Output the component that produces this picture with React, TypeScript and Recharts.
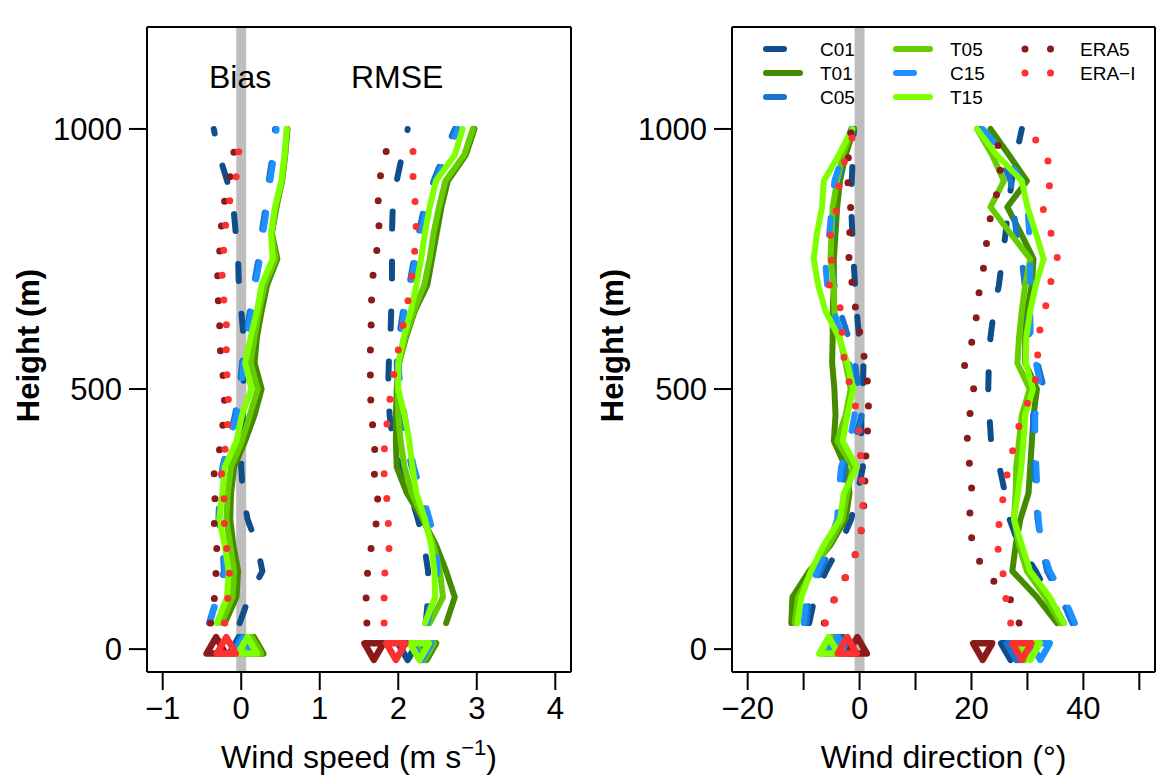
import React from 'react';
import { ComposedChart, Line, Scatter, XAxis, YAxis, ReferenceLine } from 'recharts';

const FONT = '"Liberation Sans", Arial, Helvetica, sans-serif';

// model levels (m), bottom to top
const heights = [50, 100, 150, 200, 250, 300, 350, 400, 450, 500, 550, 600, 650, 700, 750, 800, 850, 900, 950, 1000];

const seriesNames = ['C01', 'T01', 'C05', 'T05', 'C15', 'T15', 'ERA5', 'ERA\u2212I'];
const seriesColors = ['#104E8B', '#458B00', '#1874CD', '#66CD00', '#1E90FF', '#7FFF00', '#8B1A1A', '#FF3030'];

// wind speed bias (m s-1)
const wsBiasC01 = [-0.02, 0.10, 0.27, 0.20, 0.08, 0.02, 0.00, 0.01, 0.02, 0.03, 0.03, 0.03, 0.00, -0.03, -0.04, -0.07, -0.10, -0.18, -0.28, -0.35];
const wsBiasT01 = [-0.21, -0.06, -0.04, -0.10, -0.14, -0.13, -0.09, 0.05, 0.17, 0.26, 0.17, 0.20, 0.26, 0.33, 0.46, 0.39, 0.45, 0.52, 0.56, 0.59];
const wsBiasC05 = [-0.41, -0.31, -0.22, -0.24, -0.29, -0.28, -0.24, -0.16, -0.08, -0.02, 0.01, 0.06, 0.11, 0.16, 0.22, 0.26, 0.31, 0.35, 0.40, 0.43];
const wsBiasT05 = [-0.25, -0.11, -0.09, -0.14, -0.19, -0.17, -0.13, 0.01, 0.11, 0.21, 0.12, 0.17, 0.23, 0.30, 0.44, 0.39, 0.44, 0.52, 0.56, 0.58];
const wsBiasC15 = [-0.40, -0.30, -0.20, -0.22, -0.28, -0.27, -0.23, -0.15, -0.06, 0.00, 0.03, 0.08, 0.13, 0.18, 0.24, 0.28, 0.33, 0.37, 0.42, 0.45];
const wsBiasT15 = [-0.31, -0.18, -0.16, -0.21, -0.28, -0.24, -0.21, -0.06, 0.01, 0.13, 0.05, 0.12, 0.20, 0.26, 0.40, 0.38, 0.43, 0.51, 0.55, 0.58];
const wsBiasERA5 = [-0.39, -0.34, -0.32, -0.31, -0.35, -0.33, -0.35, -0.24, -0.23, -0.20, -0.26, -0.27, -0.28, -0.31, -0.28, -0.26, -0.23, -0.15, -0.10, -0.04];
const wsBiasERAI = [-0.21, -0.17, -0.15, -0.19, -0.22, -0.22, -0.26, -0.18, -0.17, -0.16, -0.20, -0.18, -0.20, -0.25, -0.23, -0.21, -0.17, -0.07, -0.03, -0.04];

// wind speed RMSE (m s-1)
const wsRmseC01 = [2.35, 2.38, 2.38, 2.33, 2.25, 2.15, 2.02, 1.93, 1.89, 1.87, 1.88, 1.90, 1.91, 1.92, 1.92, 1.92, 1.93, 1.98, 2.05, 2.12];
const wsRmseT01 = [2.61, 2.72, 2.61, 2.48, 2.31, 2.11, 1.98, 1.97, 1.97, 1.98, 2.01, 2.10, 2.21, 2.37, 2.43, 2.49, 2.55, 2.63, 2.86, 2.97];
const wsRmseC05 = [2.35, 2.42, 2.48, 2.45, 2.37, 2.27, 2.17, 2.10, 2.05, 2.00, 1.98, 2.01, 2.06, 2.14, 2.20, 2.26, 2.33, 2.45, 2.58, 2.72];
const wsRmseT05 = [2.40, 2.57, 2.53, 2.45, 2.32, 2.17, 2.08, 2.03, 2.00, 1.99, 2.01, 2.09, 2.20, 2.33, 2.40, 2.45, 2.52, 2.60, 2.84, 2.95];
const wsRmseC15 = [2.37, 2.45, 2.50, 2.48, 2.40, 2.30, 2.20, 2.13, 2.08, 2.03, 2.00, 2.03, 2.08, 2.16, 2.22, 2.29, 2.36, 2.48, 2.62, 2.76];
const wsRmseT15 = [2.34, 2.47, 2.46, 2.42, 2.34, 2.23, 2.18, 2.14, 2.08, 2.00, 2.00, 2.07, 2.16, 2.23, 2.29, 2.34, 2.40, 2.48, 2.72, 2.82];
const wsRmseERA5 = [1.60, 1.59, 1.61, 1.66, 1.73, 1.74, 1.68, 1.71, 1.65, 1.65, 1.64, 1.65, 1.66, 1.66, 1.71, 1.76, 1.74, 1.76, 1.83, 1.95];
const wsRmseERAI = [1.82, 1.82, 1.83, 1.89, 1.87, 1.85, 1.81, 1.83, 1.87, 1.91, 1.97, 2.03, 2.10, 2.16, 2.20, 2.23, 2.22, 2.19, 2.18, 2.24];

// wind direction bias (deg)
const wdBiasC01 = [-9.0, -8.0, -6.0, -3.5, -1.5, -0.4, 0.6, 0.3, 0.3, 0.6, 0.7, -0.1, -0.5, -0.8, -1.1, -1.3, -1.5, -1.4, -1.2, -1.0];
const wdBiasT01 = [-12.2, -12.0, -9.0, -5.2, -2.5, -1.8, -2.5, -4.6, -4.3, -4.5, -4.9, -4.8, -4.8, -4.6, -4.6, -4.3, -4.0, -3.5, -2.5, -1.0];
const wdBiasC05 = [-9.5, -9.0, -7.0, -5.0, -3.3, -3.0, -2.8, -1.0, 0.4, -0.2, -0.8, -2.0, -3.5, -4.5, -5.0, -4.8, -4.5, -3.8, -2.5, -1.2];
const wdBiasT05 = [-11.6, -11.0, -8.5, -5.5, -3.0, -2.2, -1.2, -4.0, -2.5, -1.6, -2.5, -3.6, -4.5, -4.6, -5.2, -5.0, -4.8, -4.0, -3.0, -1.3];
const wdBiasC15 = [-10.0, -9.5, -7.5, -5.5, -4.0, -3.8, -3.3, -1.8, -0.9, -1.2, -1.8, -3.2, -4.6, -5.8, -6.2, -5.4, -5.0, -4.5, -3.0, -1.5];
const wdBiasT15 = [-11.1, -10.4, -8.7, -6.4, -3.5, -2.8, -0.5, -3.0, -2.2, -1.1, -2.2, -3.7, -6.1, -7.4, -8.2, -7.6, -6.7, -6.4, -3.7, -1.3];
const wdBiasERA5 = [-6.3, -4.4, -2.0, -0.1, 0.6, 0.9, 1.0, 1.3, 1.6, 1.55, 1.0, 0.2, -0.65, -1.3, -1.9, -1.75, -1.6, -2.1, -2.0, -1.5];
const wdBiasERAI = [-6.1, -4.3, -1.9, -0.1, 0.55, 0.6, 0.25, 0.05, -0.3, -1.55, -2.7, -3.1, -3.2, -5.4, -5.0, -5.2, -4.0, -3.6, -2.4, -0.8];

// wind direction RMSE (deg)
const wdRmseC01 = [36.5, 34.0, 31.5, 28.5, 26.8, 26.0, 25.0, 23.5, 23.2, 23.0, 23.1, 23.4, 24.0, 24.9, 25.5, 26.1, 26.6, 27.2, 28.0, 29.0];
const wdRmseT01 = [35.3, 31.7, 27.3, 27.9, 28.75, 30.2, 30.5, 30.8, 31.1, 31.7, 29.6, 29.6, 29.9, 30.8, 31.1, 28.8, 26.4, 29.9, 26.7, 23.4];
const wdRmseC05 = [38.0, 36.0, 33.5, 32.5, 31.8, 31.5, 31.2, 31.0, 31.0, 33.0, 31.8, 30.3, 30.0, 29.5, 29.0, 28.0, 27.5, 27.0, 25.0, 21.5];
const wdRmseT05 = [35.9, 33.2, 29.9, 28.5, 27.6, 27.9, 28.0, 28.5, 29.0, 30.4, 28.2, 28.5, 29.0, 29.6, 30.5, 26.9, 23.4, 25.8, 23.7, 21.0];
const wdRmseC15 = [38.5, 36.5, 34.0, 32.5, 32.0, 31.8, 31.6, 31.4, 31.4, 32.5, 31.5, 30.6, 30.5, 30.5, 30.5, 30.3, 30.0, 29.0, 26.0, 22.0];
const wdRmseT15 = [36.5, 34.0, 30.5, 29.0, 27.6, 28.3, 28.9, 29.3, 29.6, 31.0, 29.7, 29.8, 30.5, 31.5, 32.9, 31.5, 30.0, 29.0, 24.5, 21.0];
const wdRmseERA5 = [28.5, 26.8, 22.2, 20.2, 19.6, 20.1, 19.7, 19.2, 19.7, 20.4, 18.6, 20.4, 21.0, 21.5, 22.5, 22.8, 23.8, 25.2, 25.0, 24.3];
const wdRmseERAI = [27.0, 26.1, 25.6, 24.6, 25.0, 25.8, 26.6, 27.8, 29.0, 31.2, 31.8, 31.9, 33.1, 34.0, 35.4, 34.2, 32.7, 34.2, 33.5, 30.0];

// column means drawn as triangles at height 0 (same order as seriesNames)
const wsBiasMean = [-0.03, 0.16, 0.0, 0.13, 0.03, 0.08, -0.32, -0.19];
const wsRmseMean = [2.12, 2.36, 2.28, 2.33, 2.30, 2.27, 1.69, 1.97];
const wdBiasMean = [-3.0, -4.6, -3.5, -5.0, -4.0, -5.5, -0.4, -2.2];
const wdRmseMean = [27.0, 28.5, 28.0, 29.5, 32.3, 30.5, 22.0, 29.0];

const wsBias = [wsBiasC01, wsBiasT01, wsBiasC05, wsBiasT05, wsBiasC15, wsBiasT15, wsBiasERA5, wsBiasERAI];
const wsRmse = [wsRmseC01, wsRmseT01, wsRmseC05, wsRmseT05, wsRmseC15, wsRmseT15, wsRmseERA5, wsRmseERAI];
const wdBias = [wdBiasC01, wdBiasT01, wdBiasC05, wdBiasT05, wdBiasC15, wdBiasT15, wdBiasERA5, wdBiasERAI];
const wdRmse = [wdRmseC01, wdRmseT01, wdRmseC05, wdRmseT05, wdRmseC15, wdRmseT15, wdRmseERA5, wdRmseERAI];

const heightTicks = [0, 500, 1000];
const wsTicks = [-1, 0, 1, 2, 3, 4];
const wdTicks = [-20, -10, 0, 10, 20, 30, 40, 50];
const wdLabelled = [-20, 0, 20, 40];

const axisStroke = { stroke: '#000', strokeWidth: 2 };
const tickFont = { fill: '#000', fontSize: 31, fontFamily: FONT };
const minus = (v: number) => String(v).replace('-', '\u2212');

// C = dashed, T = solid, ERA = dotted
const lineStyle = (i: number) =>
  i >= 6 ? { strokeWidth: 7, strokeDasharray: '0 25' } : i % 2 === 0 ? { strokeWidth: 6, strokeDasharray: '17 33' } : { strokeWidth: 6 };

const upTri = (color: string) => (p: any) => (
  <polygon
    points={`${p.cx - 9.5},${p.cy + 4.5} ${p.cx + 9.5},${p.cy + 4.5} ${p.cx},${p.cy - 12}`}
    fill="none" stroke={color} strokeWidth={6.5} strokeLinejoin="round"
  />
);
const downTri = (color: string) => (p: any) => (
  <polygon
    points={`${p.cx - 9.5},${p.cy - 5.75} ${p.cx + 9.5},${p.cy - 5.75} ${p.cx},${p.cy + 10.75}`}
    fill="none" stroke={color} strokeWidth={6.5} strokeLinejoin="round"
  />
);

const yTitle = (dx: number) => (props: any) => {
  const vb = props.viewBox;
  const cx = vb.x + dx;
  const cy = vb.y + vb.height / 2 - 4;
  return (
    <text x={cx} y={cy} transform={`rotate(-90, ${cx}, ${cy})`} textAnchor="middle" dominantBaseline="central"
      fontSize={31} fontWeight="bold" fontFamily={FONT} fill="#000">
      Height (m)
    </text>
  );
};

const speedTitle = (props: any) => {
  const vb = props.viewBox;
  return (
    <text x={vb.x + vb.width / 2} y={vb.y + vb.height - 14} textAnchor="middle" fontSize={32} fontFamily={FONT} fill="#000">
      Wind speed (m s<tspan dy={-13} fontSize={22}>{'\u22121'}</tspan><tspan dy={13}>)</tspan>
    </text>
  );
};

const dirTitle = (props: any) => {
  const vb = props.viewBox;
  return (
    <text x={vb.x + vb.width / 2} y={vb.y + vb.height - 14} textAnchor="middle" fontSize={32} fontFamily={FONT} fill="#000">
      Wind direction (°)
    </text>
  );
};

type PanelProps = {
  groupA: number[][];
  groupB: number[][];
  meanA: number[];
  meanB: number[];
  xDomain: [number, number];
  xTicks: number[];
  xLabelled: number[];
  width: number;
  leftWidth: number;
  rightWidth: number;
  xTitle: any;
  yTitleX: number;
};

const Panel = ({ groupA, groupB, meanA, meanB, xDomain, xTicks, xLabelled, width, leftWidth, rightWidth, xTitle, yTitleX }: PanelProps) => {
  const rows = heights.map((h, i) => {
    const r: any = { h };
    seriesNames.forEach((_, s) => {
      r['a' + s] = groupA[s][i];
      r['b' + s] = groupB[s][i];
    });
    return r;
  });

  return (
    <ComposedChart width={width} height={782} data={rows} layout="vertical" margin={{ top: 0, right: 0, bottom: 0, left: 0 }}>
      <XAxis xAxisId="bot" type="number" orientation="bottom" domain={xDomain} allowDataOverflow ticks={xTicks} interval={0}
        height={110} tickSize={18} tickMargin={7} tick={tickFont} axisLine={axisStroke} tickLine={axisStroke}
        tickFormatter={(v: number) => (xLabelled.includes(v) ? minus(v) : '')} label={xTitle} />
      <XAxis xAxisId="top" type="number" orientation="top" domain={xDomain} allowDataOverflow ticks={xTicks} interval={0}
        height={27} tickSize={17} tick={false} axisLine={axisStroke} tickLine={axisStroke} />
      <YAxis yAxisId="left" type="number" dataKey="h" domain={[-44, 1196]} allowDataOverflow reversed ticks={heightTicks} interval={0}
        width={leftWidth} tickSize={18} tickMargin={7} tick={tickFont} axisLine={axisStroke} tickLine={axisStroke}
        label={yTitle(yTitleX)} />
      <YAxis yAxisId="right" orientation="right" type="number" domain={[-44, 1196]} allowDataOverflow reversed ticks={heightTicks} interval={0}
        width={rightWidth} tickSize={18} tick={false} axisLine={axisStroke} tickLine={axisStroke} />
      <ReferenceLine xAxisId="bot" yAxisId="left" x={0} stroke="#BEBEBE" strokeWidth={10} />
      {['a', 'b'].flatMap((g) =>
        seriesNames.map((name, s) => (
          <Line key={g + name} xAxisId="bot" yAxisId="left" dataKey={g + s} stroke={seriesColors[s]} {...lineStyle(s)}
            strokeLinecap="round" strokeLinejoin="round" dot={false} activeDot={false} isAnimationActive={false} />
        ))
      )}
      {seriesNames.map((name, s) => (
        <Scatter key={'ta' + name} xAxisId="bot" yAxisId="left" data={[{ x: meanA[s], h: 0 }]} dataKey="x"
          shape={upTri(seriesColors[s])} isAnimationActive={false} />
      ))}
      {seriesNames.map((name, s) => (
        <Scatter key={'tb' + name} xAxisId="bot" yAxisId="left" data={[{ x: meanB[s], h: 0 }]} dataKey="x"
          shape={downTri(seriesColors[s])} isAnimationActive={false} />
      ))}
    </ComposedChart>
  );
};

const legendColX = [766, 896, 1025];
const legendTextX = [820, 950, 1080];
const legendRowY = [49, 73, 97];

const Overlay = () => (
  <svg width={1167} height={782} style={{ position: 'absolute', left: 0, top: 0, pointerEvents: 'none' }}>
    <text x={209} y={88} fontSize={32} fontFamily={FONT} fill="#000">Bias</text>
    <text x={351} y={88} fontSize={32} fontFamily={FONT} fill="#000">RMSE</text>
    {seriesNames.map((name, i) => {
      const col = Math.floor(i / 3);
      const y = legendRowY[i % 3];
      const x0 = legendColX[col];
      const isEra = i >= 6;
      return (
        <g key={name}>
          <line x1={x0} x2={isEra ? x0 + 27 : x0 + 34} y1={y} y2={y} stroke={seriesColors[i]}
            strokeWidth={isEra ? 7 : 6} strokeLinecap="round"
            strokeDasharray={isEra ? '0 25.5' : i % 2 === 0 ? '18 33' : undefined} />
          <text x={legendTextX[col]} y={y} dominantBaseline="central" fontSize={19} fontFamily={FONT} fill="#000">{name}</text>
        </g>
      );
    })}
  </svg>
);

export default function App() {
  return (
    <div style={{ position: 'absolute', left: 0, top: 0, width: 1167, height: 782, background: '#fff', fontFamily: FONT, overflow: 'hidden' }}>
      <div style={{ position: 'absolute', left: 0, top: 0 }}>
        <Panel groupA={wsBias} groupB={wsRmse} meanA={wsBiasMean} meanB={wsRmseMean} xDomain={[-1.2, 4.2]}
          xTicks={wsTicks} xLabelled={wsTicks} width={580} leftWidth={147} rightWidth={9} xTitle={speedTitle} yTitleX={28} />
      </div>
      <div style={{ position: 'absolute', left: 580, top: 0 }}>
        <Panel groupA={wdBias} groupB={wdRmse} meanA={wdBiasMean} meanB={wdRmseMean} xDomain={[-22.8, 52.8]}
          xTicks={wdTicks} xLabelled={wdLabelled} width={587} leftWidth={152} rightWidth={12} xTitle={dirTitle} yTitleX={32} />
      </div>
      <Overlay />
    </div>
  );
}
